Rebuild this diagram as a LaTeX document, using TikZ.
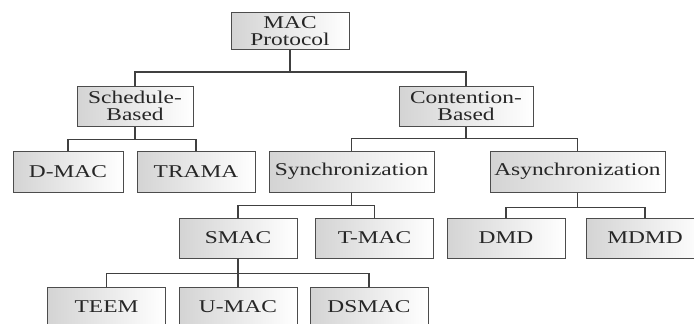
\documentclass[tikz,border=0pt]{standalone}
\usepackage{fontspec}
\setmainfont{Liberation Serif}[FakeStretch=1.3]
\usetikzlibrary{positioning}

\begin{document}
\begin{tikzpicture}[x=1pt,y=-1pt,on grid,
   blk/.style={draw=black!70,line width=1pt,left color=black!17,right color=white,
     minimum width=118pt,minimum height=40pt,inner sep=2pt,align=center,
     text=black!85,font=\fontsize{18}{16.5}\selectfont},
   link/.style={draw=black!75,line width=1.3pt}]
   \useasboundingbox (0,0) rectangle (694,324);
   \clip (0,0) rectangle (694,324);

   % top
   \node[blk,minimum height=37pt] (mac) at (290,31) {MAC\\Protocol};
   \node[blk,minimum width=116pt] (sched) at (135,106) {Schedule-\\Based};
   \node[blk,minimum width=134pt] (cont) [right=331pt of sched] {Contention-\\Based};

   % third row
   \node[blk,minimum width=110pt,minimum height=41pt] (dmac) at (68,171.5) {D-MAC};
   \node[blk,minimum height=41pt] (trama) [right=128pt of dmac] {TRAMA};
   \node[blk,minimum width=165pt,minimum height=41pt] (sync) [right=155.5pt of trama] {Synchronization};
   \node[blk,minimum width=175pt,minimum height=41pt] (async) [right=226pt of sync] {Asynchronization};

   % fourth row
   \node[blk] (smac) at (238,238) {SMAC};
   \node[blk] (tmac) [right=136.5pt of smac] {T-MAC};
   \node[blk] (dmd) [right=131.5pt of tmac] {DMD};
   \node[blk] (mdmd) [right=139pt of dmd] {MDMD};

   % bottom
   \node[blk] (teem) at (106.5,307) {TEEM};
   \node[blk] (umac) [right=131.5pt of teem] {U-MAC};
   \node[blk] (dsmac) [right=131pt of umac] {DSMAC};

   \draw[link] (mac.south) -- ++(0,22) -| (sched.north);
   \draw[link] (mac.south) ++(0,22) -| (cont.north);
   \draw[link] (sched.south) -- ++(0,13) -| (dmac.north);
   \draw[link] (sched.south) ++(0,13) -| (trama.north);
   \draw[link] (cont.south) -- ++(0,12) -| (sync.north);
   \draw[link] (cont.south) ++(0,12) -| (async.north);
   \draw[link] (sync.south) -- ++(0,13) -| (smac.north);
   \draw[link] (sync.south) ++(0,13) -| (tmac.north);
   \draw[link] (async.south) -- ++(0,15) -| (dmd.north);
   \draw[link] (async.south) ++(0,15) -| (mdmd.north);
   \draw[link] (smac.south) -- ++(0,15) -| (teem.north);
   \draw[link] (smac.south) -- (umac.north);
   \draw[link] (smac.south) ++(0,15) -| (dsmac.north);
\end{tikzpicture}
\end{document}
